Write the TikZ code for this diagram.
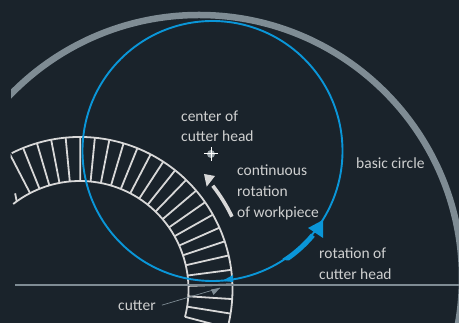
\documentclass[tikz,border=0pt]{standalone}
\usepackage{fontspec}
\setmainfont{Carlito}
\definecolor{bgc}{HTML}{1A232B}
\definecolor{lbl}{HTML}{CFD0D0}
\definecolor{ringc}{HTML}{D8D8D8}
\definecolor{greyc}{HTML}{7F8C94}
\definecolor{bluec}{HTML}{0A96D8}
\tikzset{
  lab/.style={anchor=base west,inner sep=0pt,text=lbl,font=\fontsize{15.5}{18}\selectfont},
  ringline/.style={draw=ringc,line width=1.8pt},
  blueline/.style={draw=bluec,line width=1.9pt}
}
\begin{document}
\begin{tikzpicture}[x=1pt,y=1pt]
\useasboundingbox (0,0) rectangle (459,323);
\fill[bgc] (0,0) rectangle (459,323);
\begin{scope}
\clip (11,0) rectangle (459,323);
\draw[greyc,line width=6.5pt] (199,45) circle (263);
\end{scope}
\begin{scope}
\clip (10.5,0) rectangle (459,323);
\draw[ringline] ([shift={(80,33.5)}]116.6:152.5) arc (116.6:-14.6:152.5);
\draw[ringline] ([shift={(80,33.5)}]128:108.5) arc (128:-14.6:108.5);
\foreach \k in {-3,...,21}{
  \pgfmathsetmacro{\ang}{1.9+5.5*\k}
  \draw[ringline] ([shift={(80,33.5)}]\ang:108.5) -- ([shift={(80,33.5)}]\ang:152.5);
}
\draw[ringline] ([shift={(80,33.5)}]125.7:108.5) -- ([shift={(80,33.5)}]124:116);
\end{scope}
\draw[greyc,line width=1.4pt] (15,38) -- (459,38);
\draw[blueline] (212.5,172) circle (130);
% blue arrows
\fill[bluec] ([shift={(212.5,172)}]-57:128.5) arc (-57:-40:128.5) -- ([shift={(212.5,172)}]-40:133.5) arc (-40:-55:133.5) -- ([shift={(212.5,172)}]-56:132) -- cycle;
\fill[bluec] (323,103) -- (308,95) -- (323,85) -- cycle;
\fill[bluec] (222,42) -- (233,48) -- (233,41) -- cycle;
% white arrow
\draw[ringc,line width=3.6pt] ([shift={(80,33.5)}]25.6:168.5) arc (25.6:38:168.5);
\fill[ringc] (204,149) -- (215,147) -- (206.7,136.3) -- cycle;
% centre mark
\node[circle,fill=greyc!80!white,minimum size=8pt,inner sep=0pt] (ctr) at (211,169) {};
\draw[white,line width=1pt] (204,169) -- (218,169) (211,162) -- (211,176);
% labels
\node[lab] (t1) at (181,201.5) {center of};
\node[lab] (t2) at (181,181.5) {cutter head};
\node[lab] (t3) at (237,147.5) {continuous};
\node[lab] (t4) at (237,126.5) {rotation};
\node[lab] (t5) at (237,105) {of workpiece};
\node[lab] (t6) at (356,154) {basic circle};
\node[lab] (t7) at (319,64) {rotation of};
\node[lab] (t8) at (319,43) {cutter head};
\node[lab] (t9) at (118,12) {cutter};
% leader
\coordinate (tip) at (220,35);
\draw[greyc,line width=0.7pt] (t9.east)++(6,1) -- (tip);
\fill[greyc] (tip) -- (211,33.5) -- (213.5,28) -- cycle;
\end{tikzpicture}
\end{document}
